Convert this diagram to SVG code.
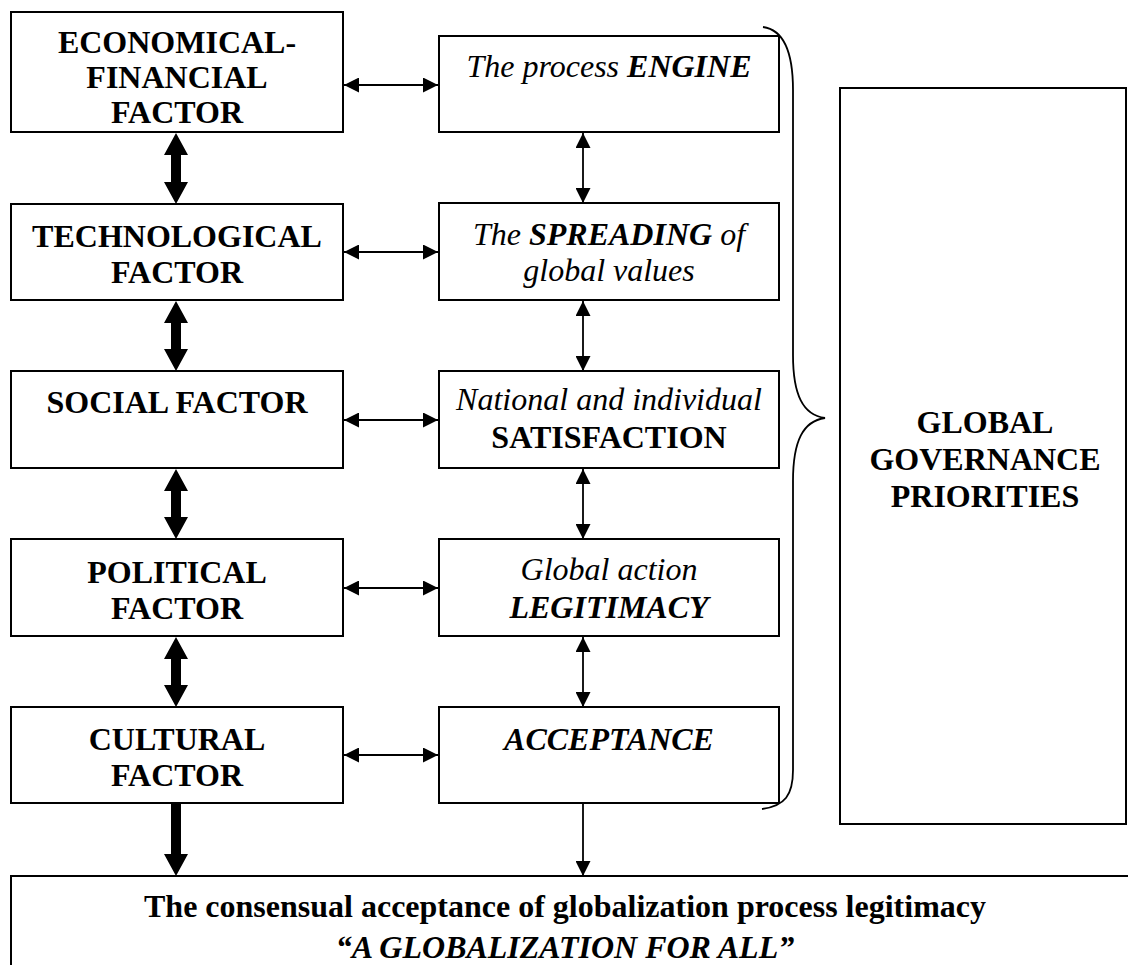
<svg xmlns="http://www.w3.org/2000/svg" width="1128" height="965" viewBox="0 0 1128 965">
<defs>
<style>
.box{fill:#fff;stroke:#000;stroke-width:2}
.t{font-family:"Liberation Serif","Times New Roman",serif;font-size:32px;text-anchor:middle;fill:#000}
.b{font-weight:bold}
.i{font-style:italic}
.thin{stroke:#000;stroke-width:1.8;fill:none}
.thick{fill:#000;stroke:none}
</style>
<marker id="ah" markerUnits="userSpaceOnUse" markerWidth="16" markerHeight="15" refX="15" refY="7.5" orient="auto-start-reverse">
<path d="M0,0 L15,7.5 L0,15 Z" fill="#000"/>
</marker>
</defs>
<rect width="1128" height="965" fill="#fff"/>

<g id="connectors">
<path class="thick" d="M176,133 L188,155 L181,155 L181,182 L188,182 L176,204 L164,182 L171,182 L171,155 L164,155 Z"/>
<path class="thick" d="M176,301 L188,323 L181,323 L181,349 L188,349 L176,371 L164,349 L171,349 L171,323 L164,323 Z"/>
<path class="thick" d="M176,469 L188,491 L181,491 L181,517 L188,517 L176,539 L164,517 L171,517 L171,491 L164,491 Z"/>
<path class="thick" d="M176,637 L188,659 L181,659 L181,685 L188,685 L176,707 L164,685 L171,685 L171,659 L164,659 Z"/>
<path class="thick" d="M171,804 L181,804 L181,854 L188,854 L176,876 L164,854 L171,854 Z"/>
<line class="thin" x1="344" y1="85" x2="438" y2="85" marker-start="url(#ah)" marker-end="url(#ah)"/>
<line class="thin" x1="344" y1="252" x2="438" y2="252" marker-start="url(#ah)" marker-end="url(#ah)"/>
<line class="thin" x1="344" y1="420" x2="438" y2="420" marker-start="url(#ah)" marker-end="url(#ah)"/>
<line class="thin" x1="344" y1="588" x2="438" y2="588" marker-start="url(#ah)" marker-end="url(#ah)"/>
<line class="thin" x1="344" y1="755" x2="438" y2="755" marker-start="url(#ah)" marker-end="url(#ah)"/>
<line class="thin" x1="583" y1="133" x2="583" y2="203" marker-start="url(#ah)" marker-end="url(#ah)"/>
<line class="thin" x1="583" y1="301" x2="583" y2="371" marker-start="url(#ah)" marker-end="url(#ah)"/>
<line class="thin" x1="583" y1="469" x2="583" y2="539" marker-start="url(#ah)" marker-end="url(#ah)"/>
<line class="thin" x1="583" y1="637" x2="583" y2="707" marker-start="url(#ah)" marker-end="url(#ah)"/>
<line class="thin" x1="583" y1="804" x2="583" y2="876" marker-end="url(#ah)"/>
<path class="thin" d="M763,27 C785,30 793,55 793,90 L793,355 C793,395 803,415 825,418 C803,421 793,441 793,481 L793,770 C793,795 785,806 762,809"/>
</g>

<g id="n-econ">
<rect class="box" x="11" y="12" width="332" height="120"/>
<text class="t b" x="177" y="53">ECONOMICAL-</text>
<text class="t b" x="177" y="88">FINANCIAL</text>
<text class="t b" x="177" y="123">FACTOR</text>
</g>
<g id="n-tech">
<rect class="box" x="11" y="204" width="332" height="96"/>
<text class="t b" x="177" y="247">TECHNOLOGICAL</text>
<text class="t b" x="177" y="283">FACTOR</text>
</g>
<g id="n-social">
<rect class="box" x="11" y="371" width="332" height="97"/>
<text class="t b" x="177" y="413">SOCIAL FACTOR</text>
</g>
<g id="n-political">
<rect class="box" x="11" y="539" width="332" height="97"/>
<text class="t b" x="177" y="583">POLITICAL</text>
<text class="t b" x="177" y="619">FACTOR</text>
</g>
<g id="n-cultural">
<rect class="box" x="11" y="707" width="332" height="96"/>
<text class="t b" x="177" y="750">CULTURAL</text>
<text class="t b" x="177" y="786">FACTOR</text>
</g>

<g id="n-engine">
<rect class="box" x="439" y="36" width="340" height="96"/>
<text class="t i" x="609" y="77">The process <tspan class="b">ENGINE</tspan></text>
</g>
<g id="n-spreading">
<rect class="box" x="439" y="203" width="340" height="97"/>
<text class="t i" x="609" y="245">The <tspan class="b">SPREADING</tspan> of</text>
<text class="t i" x="609" y="281">global values</text>
</g>
<g id="n-satisfaction">
<rect class="box" x="439" y="371" width="340" height="97"/>
<text class="t i" x="609" y="410">National and individual</text>
<text class="t b" x="609" y="448">SATISFACTION</text>
</g>
<g id="n-legitimacy">
<rect class="box" x="439" y="539" width="340" height="97"/>
<text class="t i" x="609" y="580">Global action</text>
<text class="t i b" x="609" y="618">LEGITIMACY</text>
</g>
<g id="n-acceptance">
<rect class="box" x="439" y="707" width="340" height="96"/>
<text class="t i b" x="609" y="750">ACCEPTANCE</text>
</g>

<g id="n-priorities">
<rect class="box" x="840" y="88" width="286" height="736"/>
<text class="t b" x="985" y="433">GLOBAL</text>
<text class="t b" x="985" y="470">GOVERNANCE</text>
<text class="t b" x="985" y="507">PRIORITIES</text>
</g>

<g id="n-consensus">
<path class="box" d="M1130,876 L11,876 L11,968"/>
<text class="t b" x="565" y="917">The consensual acceptance of globalization process legitimacy</text>
<text class="t i b" x="565" y="958">“A GLOBALIZATION FOR ALL”</text>
</g>
</svg>
